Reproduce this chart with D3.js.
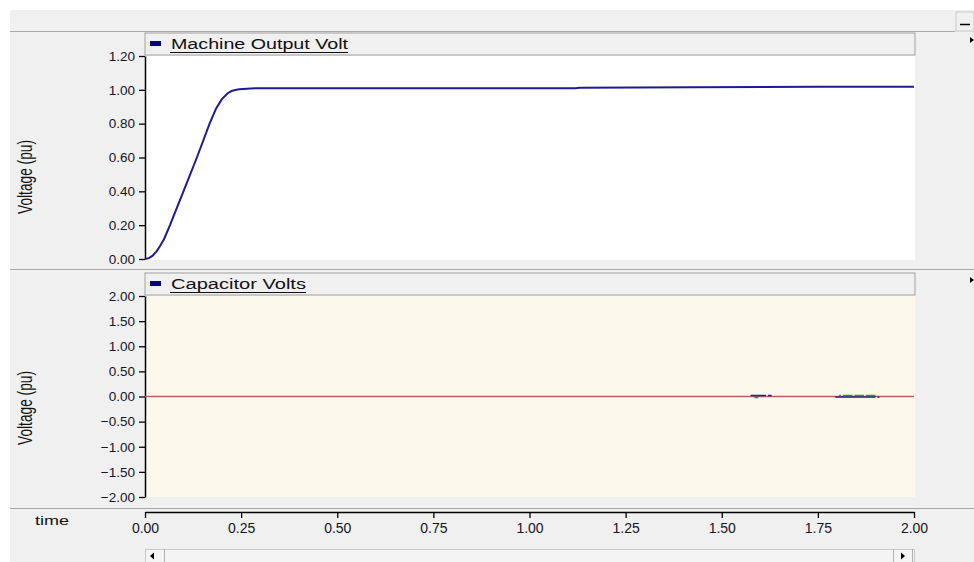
<!DOCTYPE html>
<html><head><meta charset="utf-8">
<script src="https://cdn.jsdelivr.net/npm/d3@7"></script>
<style>
body{margin:0;background:#fff;}
svg text{font-family:"Liberation Sans","DejaVu Sans",sans-serif;}
</style></head>
<body><svg id="c" width="974" height="562"></svg>
<script>
// ---- data ----
const timeTicks = [0,0.25,0.5,0.75,1.0,1.25,1.5,1.75,2.0];
const machineTicks = [0,0.2,0.4,0.6,0.8,1.0,1.2];
const capTicks = [-2,-1.5,-1,-0.5,0,0.5,1,1.5,2];
const machineT = [0,0.01,0.02,0.03,0.04,0.05,0.065,0.1,0.135,0.168,0.185,0.2,0.215,0.225,0.235,0.245,0.255,0.275,0.3,1.12,1.13,1.42,1.75,2.0];
const machineV = [0,0.005,0.02,0.045,0.08,0.12,0.2,0.4,0.6,0.8,0.89,0.945,0.98,0.993,0.999,1.003,1.005,1.008,1.01,1.01,1.013,1.016,1.018,1.018];
const capT = [0,2.0];
const capV = [0,0];
const blipBlueT = [[1.575,1.615],[1.62,1.63],[1.795,1.8],[1.8,1.9],[1.905,1.91]];
const blipBlueV = [0.02,0.02,-0.01,-0.012,-0.012];
const blipGreenT = [[1.585,1.595],[1.805,1.81],[1.815,1.84],[1.845,1.87],[1.875,1.9]];
const blipGreenV = [-0.02,0.02,0.02,0.02,0.02];

const svg = d3.select("#c");
// background
svg.append("rect").attr("x",10).attr("y",10).attr("width",964).attr("height",552).attr("fill","#f0f0f0");
svg.append("line").attr("x1",10).attr("x2",955).attr("y1",31.5).attr("y2",31.5).attr("stroke","#a8a8a8");
svg.append("line").attr("x1",10).attr("x2",974).attr("y1",269.5).attr("y2",269.5).attr("stroke","#a8a8a8");
svg.append("line").attr("x1",10).attr("x2",974).attr("y1",508.5).attr("y2",508.5).attr("stroke","#a8a8a8");
// minimize button
svg.append("rect").attr("x",956).attr("y",12).attr("width",18).attr("height",19).attr("fill","#f0f0f0").attr("stroke","#c8c8c8");
svg.append("line").attr("x1",960).attr("x2",970).attr("y1",24.5).attr("y2",24.5).attr("stroke","#000").attr("stroke-width",1.5);
// small arrows at right
[37,277].forEach(y=>svg.append("path").attr("d",`M970,${y}L974,${y+3}L970,${y+6}Z`).attr("fill","#000"));

const x = d3.scaleLinear().domain([0,2]).range([145,914]);
const y1 = d3.scaleLinear().domain([0,1.2]).range([259,56]);
const y2 = d3.scaleLinear().domain([-2,2]).range([497,296]);

function panel(yScale, ticks, top, bottom, legendY, name, legendLen, bg, labelY){
  svg.append("rect").attr("x",145).attr("y",legendY).attr("width",770).attr("height",22)
    .attr("fill","#f0f0f0").attr("stroke","#a0a0a0");
  svg.append("rect").attr("x",150).attr("y",legendY+8).attr("width",11).attr("height",5).attr("fill","#000080");
  svg.append("text").attr("x",171).attr("y",legendY+16).attr("font-size",14)
    .attr("font-family","'DejaVu Sans',sans-serif")
    .attr("textLength",legendLen).attr("lengthAdjust","spacingAndGlyphs")
    .attr("fill","#111").text(name);
  svg.append("line").attr("x1",170).attr("x2",171+legendLen).attr("y1",legendY+19.5).attr("y2",legendY+19.5).attr("stroke","#111");
  svg.append("rect").attr("x",145).attr("y",top).attr("width",770).attr("height",bottom-top).attr("fill",bg);
  const ax = svg.append("g").attr("transform","translate(145,0)")
    .call(d3.axisLeft(yScale).tickValues(ticks).tickFormat(d3.format(".2f")).tickSize(6).tickSizeOuter(0).tickPadding(4));
  ax.select(".domain").attr("stroke","#000").attr("stroke-width",1.5);
  ax.selectAll(".tick line").attr("stroke","#000").attr("stroke-width",1.3);
  ax.selectAll("text").attr("font-size",13.5).attr("fill","#141428").attr("font-family","'Liberation Sans',sans-serif");
  svg.append("text").attr("transform",`translate(32,${labelY}) rotate(-90) scale(1,1.55)`)
    .attr("text-anchor","middle").attr("font-size",13).attr("textLength",74).attr("lengthAdjust","spacingAndGlyphs")
    .attr("fill","#111").text("Voltage (pu)");
}
panel(y1, machineTicks, 56, 260, 33, "Machine Output Volt", 177, "#ffffff", 177);
panel(y2, capTicks, 296, 497, 273, "Capacitor Volts", 135, "#fdf8ec", 408);

// machine line
const line1 = d3.line().x(d=>x(d[0])).y(d=>y1(d[1]));
svg.append("path").datum(machineT.map((t,i)=>[t,machineV[i]]))
  .attr("d",line1).attr("fill","none").attr("stroke","#1c1c8e").attr("stroke-width",2);

// capacitor line
const line2 = d3.line().x(d=>x(d[0])).y(d=>y2(d[1]));
svg.append("path").datum(capT.map((t,i)=>[t,capV[i]]))
  .attr("d",line2).attr("fill","none").attr("stroke","#b06464").attr("stroke-width",1.5);
blipBlueT.forEach((s,i)=>svg.append("line").attr("x1",x(s[0])).attr("x2",x(s[1]))
  .attr("y1",y2(blipBlueV[i])).attr("y2",y2(blipBlueV[i])).attr("stroke","#2020a0").attr("stroke-width",1.5));
blipGreenT.forEach((s,i)=>svg.append("line").attr("x1",x(s[0])).attr("x2",x(s[1]))
  .attr("y1",y2(blipGreenV[i])).attr("y2",y2(blipGreenV[i])).attr("stroke","#22a022").attr("stroke-width",1.5));

// time axis
const xa = svg.append("g").attr("transform","translate(0,512)")
  .call(d3.axisBottom(x).tickValues(timeTicks).tickFormat(d3.format(".2f")).tickSize(6).tickSizeOuter(0).tickPadding(5));
xa.select(".domain").attr("stroke","#000").attr("stroke-width",1.5);
xa.selectAll(".tick line").attr("stroke","#000").attr("stroke-width",1.3);
xa.selectAll("text").attr("font-size",14).attr("fill","#141428").attr("font-family","'Liberation Sans',sans-serif");
svg.append("text").attr("x",35).attr("y",525).attr("font-size",13).attr("textLength",34).attr("lengthAdjust","spacingAndGlyphs")
  .attr("fill","#111").text("time");

// scrollbar
svg.append("rect").attr("x",145.5).attr("y",549.5).attr("width",769).attr("height",13).attr("fill","#f4f4f4").attr("stroke","#c8c8c8");
svg.append("line").attr("x1",164.5).attr("x2",164.5).attr("y1",549).attr("y2",562).attr("stroke","#b0b0b0");
svg.append("line").attr("x1",893.5).attr("x2",893.5).attr("y1",549).attr("y2",562).attr("stroke","#b0b0b0");
svg.append("line").attr("x1",912.5).attr("x2",912.5).attr("y1",549).attr("y2",562).attr("stroke","#b0b0b0");
svg.append("path").attr("d","M150,556L154,552.5L154,559.5Z").attr("fill","#000");
svg.append("path").attr("d","M905,556L901,552.5L901,559.5Z").attr("fill","#000");
</script></body></html>
